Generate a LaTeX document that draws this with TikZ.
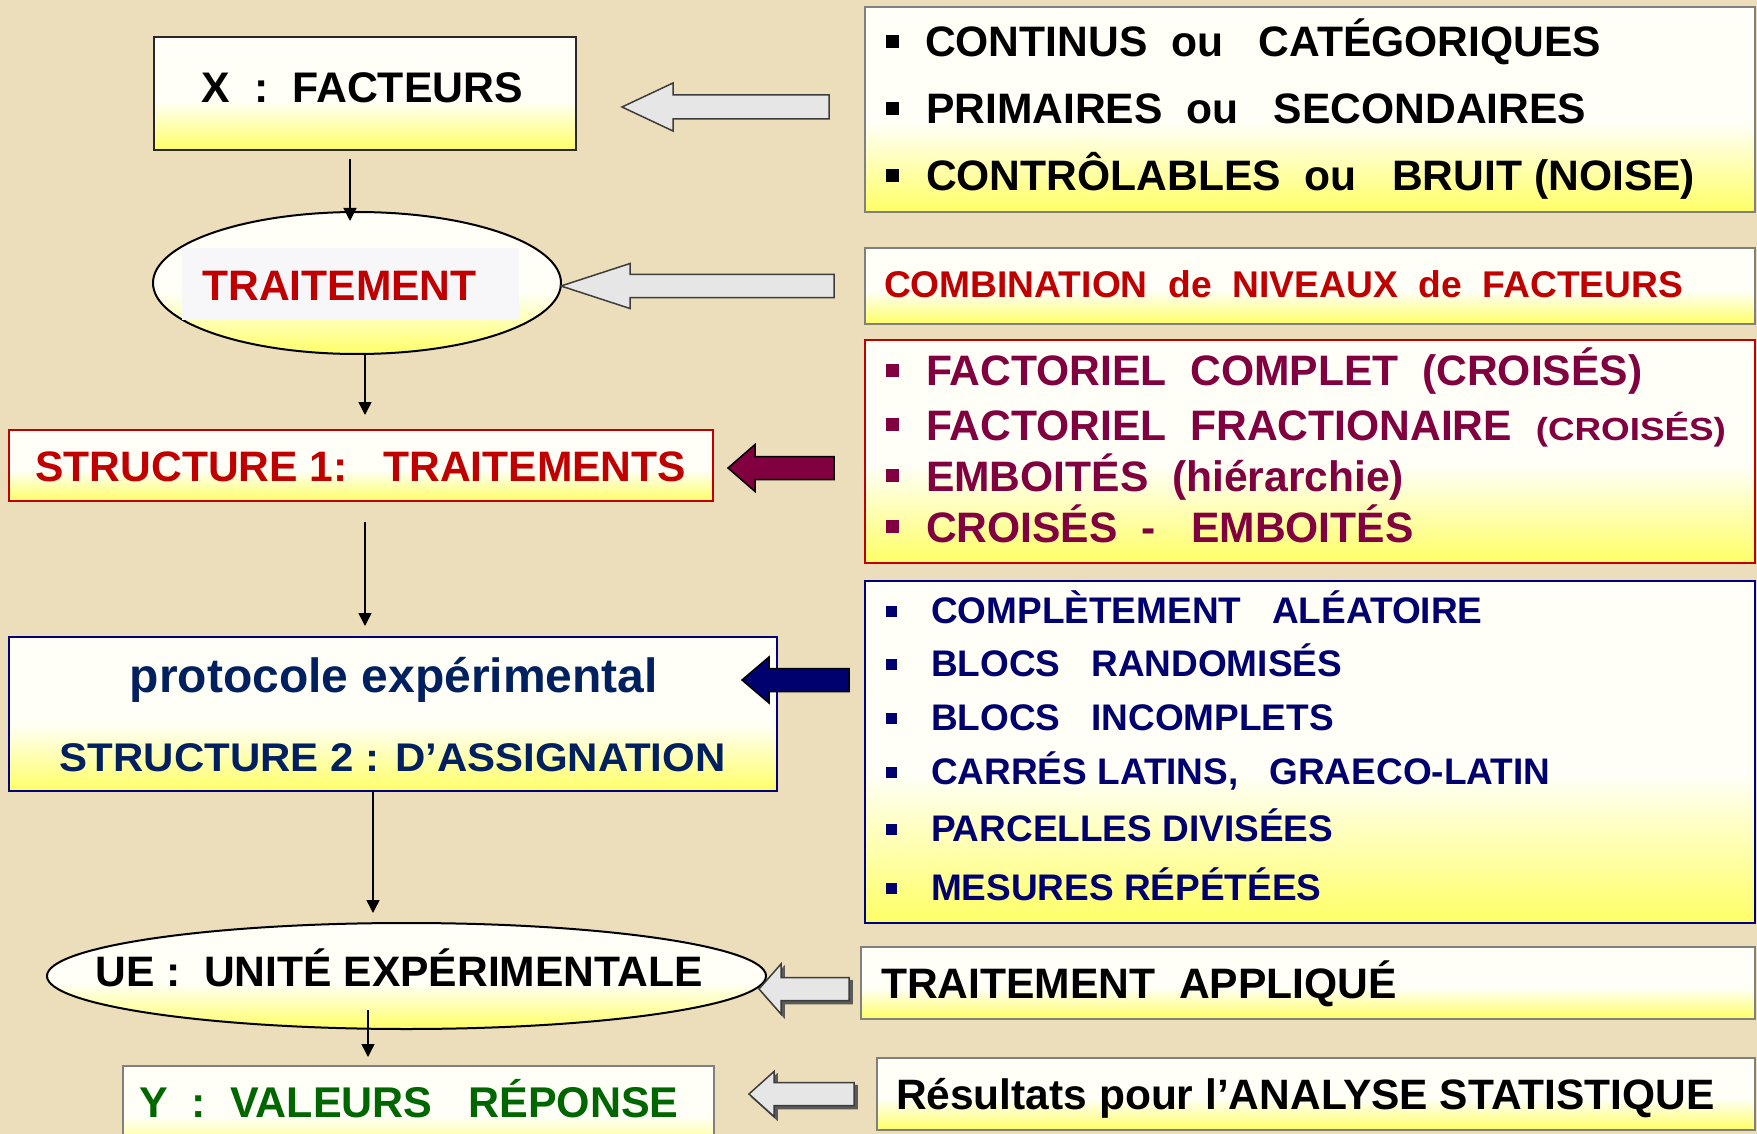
\documentclass[tikz,border=0pt]{standalone}
\usepackage{fontspec}
\usepackage{graphicx}
\setmainfont{Liberation Sans}
\usetikzlibrary{arrows.meta,calc,shapes.geometric}

% palette
\definecolor{parchment}{RGB}{236,222,186}
\definecolor{ylw}{RGB}{255,255,102}
\definecolor{cream}{RGB}{255,255,248}
\definecolor{padwhite}{RGB}{247,247,250}
\definecolor{redtxt}{RGB}{192,0,0}
\definecolor{maroon}{RGB}{128,0,64}
\definecolor{listnavy}{RGB}{0,0,110}
\definecolor{protonavy}{RGB}{0,32,96}
\definecolor{greentxt}{RGB}{0,102,0}
\definecolor{framegray}{RGB}{128,128,128}
\definecolor{framedark}{RGB}{40,40,40}
\definecolor{framenavy}{RGB}{0,0,128}
\definecolor{arrowgray}{RGB}{230,230,230}
\definecolor{arrowedge}{RGB}{60,60,60}
\definecolor{shadowgray}{RGB}{90,90,90}

% cream at the top, fading to yellow near the bottom edge
\pgfdeclareverticalshading{paleyellow}{100bp}{color(0bp)=(ylw); color(25bp)=(ylw); color(47bp)=(cream); color(100bp)=(cream)}

\newcommand{\fsz}[1]{\fontsize{#1pt}{#1pt}\selectfont}
% square bullet: raise, size, gap after it
\newcommand{\sqbullet}[3]{\raisebox{#1pt}{\rule{#2pt}{#2pt}}\hspace{#3pt}}
% left-pointing block arrow: style, tip x, tip y, tail x, head length, head half width, shaft half width
\newcommand{\blockarrow}[7]{%
  \draw[#1] (#2,#3) -- (#2+#5,#3-#6) -- (#2+#5,#3-#7) -- (#4,#3-#7) -- (#4,#3+#7)
    -- (#2+#5,#3+#7) -- (#2+#5,#3+#6) -- cycle;}

\begin{document}
\begin{tikzpicture}[x=1pt,y=-1pt,
  every node/.style={inner sep=0pt, outer sep=0pt},
  box/.style={rectangle, line width=2pt, shading=paleyellow},
  oval/.style={ellipse, draw=black, line width=2pt, shading=paleyellow},
  down/.style={draw=black, line width=1.5pt, -{Triangle[length=13pt,width=13pt]}},
  grayarrow/.style={fill=arrowgray, draw=arrowedge, line width=1.5pt, line join=miter},
  shadowarrow/.style={fill=shadowgray, draw=shadowgray, line width=1.5pt, xshift=3pt, yshift=-3pt},
  maroonarrow/.style={fill=maroon, draw=black, line width=1.5pt},
  navyarrow/.style={fill=listnavy, draw=black, line width=1.5pt},
  big/.style={font=\bfseries\fsz{42.6}},
  mid/.style={font=\bfseries\fsz{37}}
]
\useasboundingbox (0,0) rectangle (1757,1134);
\fill[parchment] (0,0) rectangle (1757,1134);
\clip (0,0) rectangle (1757,1134);

% ---------- left column ----------
\node[box, draw=framedark, minimum width=422.5pt, minimum height=113pt] (xbox) at (365,93.5) {};
\node[font=\bfseries\fsz{42.8}, anchor=base] (xlbl) at (362.5,103) {X~~:~~FACTEURS};

\node[oval, minimum width=408pt, minimum height=142pt] (trt) at (357,283) {};
\node[fill=padwhite, minimum width=337pt, minimum height=72pt] (trtpad) at (350.5,284) {};
\node[big, anchor=base, text=redtxt] (trtlbl) at (339.5,300) {TRAITEMENT};

\node[box, draw=redtxt, minimum width=703.5pt, minimum height=71pt] (s1) at (361,465.5) {};
\node[big, anchor=base, text=redtxt] (s1lbl) at (360.8,481) {STRUCTURE 1:~~~TRAITEMENTS};

\node[box, draw=framenavy, minimum width=767.5pt, minimum height=154pt] (proto) at (393,714) {};
\node[font=\bfseries\fsz{48}, anchor=base, text=protonavy] (protolbl) at (393.9,692) {protocole expérimental};
\node[font=\bfseries\fsz{40}, anchor=base, text=protonavy] (s2lbl) at (392.7,771.5) {\scalebox{1.05}[1]{STRUCTURE 2 : D’ASSIGNATION}};

\node[oval, minimum width=719pt, minimum height=106pt] (ue) at (406.5,976) {};
\node[big, anchor=base] (uelbl) at (399,986.5) {UE :~~UNITÉ EXPÉRIMENTALE};

\node[box, draw=framegray, minimum width=591pt, minimum height=90pt] (ybox) at (418.5,1111) {};
\node[font=\bfseries\fsz{43}, anchor=base, text=greentxt] (ylbl) at (409,1117) {Y~~:~~VALEURS~~~RÉPONSE};

% vertical flow
\draw[down] ($(xbox.south)+(-15,9)$) -- ($(trt.north)+(-7,9)$);
\draw[down] ($(trt.south)+(8,0)$) -- ($(s1.north)+(4,-15)$);
\draw[down] ($(s1.south)+(4,21)$) -- ($(proto.north)+(-28,-11)$);
\draw[down] ($(proto.south)+(-20,1)$) -- ($(ue.north)+(-33.5,-10)$);
\draw[down] ($(ue.south)+(-38.5,-19)$) -- ($(ybox.north)+(-50.5,-9)$);

% ---------- right column ----------
\node[box, draw=framegray, minimum width=890pt, minimum height=205pt] (kinds) at (1310,109.5) {};
\node[big, anchor=base west] (kinds1) at (886,57) {\sqbullet{8.5}{13}{26}CONTINUS~~ou~~~CATÉGORIQUES};
\node[big, anchor=base west] (kinds2) at (886,124) {\sqbullet{8.5}{13}{27}PRIMAIRES~~ou~~~SECONDAIRES};
\node[big, anchor=base west] (kinds3) at (886,191) {\sqbullet{8.5}{13}{27}CONTRÔLABLES~~ou~~~BRUIT (NOISE)};

\node[box, draw=framegray, minimum width=890pt, minimum height=76pt] (combo) at (1310,286) {};
\node[font=\bfseries\fsz{37.2}, anchor=base west, text=redtxt] (combolbl) at (884,298) {COMBINATION~~de~~NIVEAUX~~de~~FACTEURS};

\node[box, draw=redtxt, minimum width=890pt, minimum height=223pt] (plans) at (1310,451.5) {};
\node[big, anchor=base west, text=maroon] (plans1) at (886,385.5) {\sqbullet{9}{13}{27}FACTORIEL~~COMPLET~~(CROISÉS)};
\node[big, anchor=base west, text=maroon] (plans2) at (886,440) {\sqbullet{9}{13}{27}FACTORIEL~~FRACTIONAIRE~~\scalebox{1.15}[1]{\fsz{32}(CROISÉS)}};
\node[big, anchor=base west, text=maroon] (plans3) at (886,491) {\sqbullet{9}{13}{27}EMBOITÉS~~(hiérarchie)};
\node[big, anchor=base west, text=maroon] (plans4) at (886,542) {\sqbullet{9}{13}{27}CROISÉS~~-~~~EMBOITÉS};

\node[box, draw=framenavy, minimum width=890pt, minimum height=342pt] (designs) at (1310,752) {};
\node[mid, anchor=base west, text=listnavy] (des1) at (886,623) {\sqbullet{6.5}{11}{34}COMPLÈTEMENT~~~ALÉATOIRE};
\node[mid, anchor=base west, text=listnavy] (des2) at (886,676) {\sqbullet{6.5}{11}{34}BLOCS~~~RANDOMISÉS};
\node[mid, anchor=base west, text=listnavy] (des3) at (886,730) {\sqbullet{6.5}{11}{34}BLOCS~~~INCOMPLETS};
\node[mid, anchor=base west, text=listnavy] (des4) at (886,784) {\sqbullet{6.5}{11}{34}CARRÉS LATINS,~~~GRAECO-LATIN};
\node[mid, anchor=base west, text=listnavy] (des5) at (886,841) {\sqbullet{6.5}{11}{34}PARCELLES DIVISÉES};
\node[mid, anchor=base west, text=listnavy] (des6) at (886,900) {\sqbullet{6.5}{11}{34}MESURES RÉPÉTÉES};

\node[box, draw=framegray, minimum width=894pt, minimum height=72pt] (applied) at (1308,983) {};
\node[big, anchor=base west] (appliedlbl) at (881,998) {TRAITEMENT~~APPLIQUÉ};

\node[box, draw=framegray, minimum width=878pt, minimum height=72pt] (results) at (1316,1094) {};
\node[font=\bfseries\fsz{42.5}, anchor=base west] (resultslbl) at (896,1109) {Résultats pour l’ANALYSE STATISTIQUE};

% ---------- block arrows feeding the left column ----------
\blockarrow{grayarrow}{622}{107}{829}{51}{24}{12}
\blockarrow{grayarrow}{561}{286}{834}{69}{22.5}{11.5}
\blockarrow{maroonarrow}{728}{468}{834}{27}{23.5}{11.5}
\blockarrow{navyarrow}{742}{680}{849}{27}{23}{11.5}
\blockarrow{shadowarrow}{759}{989}{849}{22}{25}{11.5}
\blockarrow{grayarrow}{759}{989}{849}{22}{25}{11.5}
\blockarrow{shadowarrow}{749}{1094}{854}{25}{22.5}{11.5}
\blockarrow{grayarrow}{749}{1094}{854}{25}{22.5}{11.5}
\end{tikzpicture}
\end{document}
